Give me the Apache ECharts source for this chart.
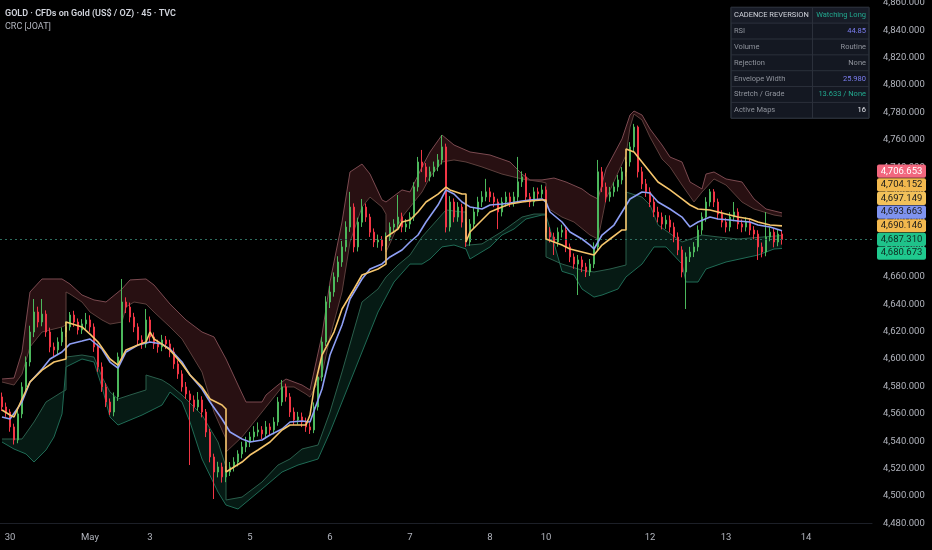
<!DOCTYPE html>
<html>
<head>
<meta charset="utf-8">
<script src="https://cdn.jsdelivr.net/npm/echarts@6/dist/echarts.min.js"></script>
<style>
html,body{margin:0;padding:0;background:#000;}
#chart{width:932px;height:550px;}
</style>
</head>
<body>
<div id="chart"></div>
<script>
// ---------- DATA ----------
const tickIndex  = [2, 22, 37, 62, 82, 102, 122, 136, 162, 181, 201];
const tickLabels = ['30', 'May', '3', '5', '6', '7', '8', '10', '12', '13', '14'];
const slotCount = 218;
const categories = Array.from({length: slotCount}, (_, i) => 'b' + i);

const opens = [
4572.3,4565.0,4561.3,4550.4,4540.9,4559.9,4579.6,4597.8,4619.7,4634.3,
4627.0,4632.8,4619.7,4608.8,4606.6,4612.4,4619.7,4623.4,4632.1,4627.0,
4621.2,4625.6,4628.5,4623.4,4608.8,4594.2,4579.6,4568.6,4561.3,4572.3,
4601.5,4641.6,4637.9,4630.6,4623.4,4613.9,4611.0,4628.5,4616.1,4611.0,
4608.8,4613.9,4611.0,4605.1,4596.4,4589.1,4579.6,4574.5,4570.1,4565.0,
4570.1,4561.3,4546.7,4528.5,4517.5,4521.2,4513.9,4517.5,4521.2,4524.8,
4530.7,4535.8,4539.4,4543.1,4546.7,4548.2,4545.3,4550.4,4548.2,4554.0,
4568.6,4579.6,4572.3,4561.3,4555.5,4557.7,4554.0,4550.4,4548.2,4565.0,
4586.9,4612.4,4641.6,4648.9,4659.9,4670.8,4681.8,4696.3,4710.9,4681.8,
4699.9,4710.9,4703.6,4692.6,4685.4,4686.9,4682.5,4689.0,4696.3,4698.5,
4703.6,4696.3,4698.5,4703.6,4725.6,4743.8,4740.2,4732.9,4736.6,4740.2,
4745.3,4754.8,4696.3,4714.6,4703.6,4710.9,4699.9,4685.4,4698.5,4707.3,
4714.6,4718.3,4722.0,4718.3,4714.6,4707.3,4714.6,4718.3,4714.6,4718.3,
4729.3,4732.9,4718.3,4714.6,4722.0,4720.5,4723.4,4692.6,4689.0,4685.4,
4692.6,4694.1,4681.8,4674.5,4669.3,4672.3,4667.2,4663.5,4669.3,4681.8,
4736.6,4725.6,4718.3,4722.0,4725.6,4730.7,4736.6,4743.8,4754.8,4769.3,
4736.6,4727.8,4722.0,4714.6,4707.3,4703.6,4698.5,4701.4,4696.3,4689.0,
4679.6,4663.5,4674.5,4678.1,4681.8,4694.1,4703.6,4714.6,4722.0,4714.6,
4705.8,4699.9,4696.3,4703.6,4707.3,4698.5,4696.3,4699.9,4694.1,4691.2,
4681.8,4678.1,4689.0,4692.6,4685.4,4691.2
];
const closes = [
4565.0,4561.3,4550.4,4540.9,4559.9,4579.6,4597.8,4619.7,4634.3,4627.0,
4632.8,4619.7,4608.8,4606.6,4612.4,4619.7,4623.4,4632.1,4627.0,4621.2,
4625.6,4628.5,4623.4,4608.8,4594.2,4579.6,4568.6,4561.3,4572.3,4601.5,
4641.6,4637.9,4630.6,4623.4,4613.9,4611.0,4628.5,4616.1,4611.0,4608.8,
4613.9,4611.0,4605.1,4596.4,4589.1,4579.6,4574.5,4570.1,4565.0,4570.1,
4561.3,4546.7,4528.5,4517.5,4521.2,4513.9,4517.5,4521.2,4524.8,4530.7,
4535.8,4539.4,4543.1,4546.7,4548.2,4545.3,4550.4,4548.2,4554.0,4568.6,
4579.6,4572.3,4561.3,4555.5,4557.7,4554.0,4550.4,4548.2,4565.0,4586.9,
4612.4,4641.6,4648.9,4659.9,4670.8,4681.8,4696.3,4710.9,4681.8,4699.9,
4710.9,4703.6,4692.6,4685.4,4686.9,4682.5,4689.0,4696.3,4698.5,4703.6,
4696.3,4698.5,4703.6,4725.6,4743.8,4740.2,4732.9,4736.6,4740.2,4745.3,
4754.8,4696.3,4714.6,4703.6,4710.9,4699.9,4685.4,4698.5,4707.3,4714.6,
4718.3,4722.0,4718.3,4714.6,4707.3,4714.6,4718.3,4714.6,4718.3,4729.3,
4732.9,4718.3,4714.6,4722.0,4720.5,4723.4,4692.6,4689.0,4685.4,4692.6,
4694.1,4681.8,4674.5,4669.3,4672.3,4667.2,4663.5,4669.3,4681.8,4736.6,
4725.6,4718.3,4722.0,4725.6,4730.7,4736.6,4743.8,4754.8,4769.3,4736.6,
4727.8,4722.0,4714.6,4707.3,4703.6,4698.5,4701.4,4696.3,4689.0,4679.6,
4663.5,4674.5,4678.1,4681.8,4694.1,4703.6,4714.6,4722.0,4714.6,4705.8,
4699.9,4696.3,4703.6,4707.3,4698.5,4696.3,4699.9,4694.1,4691.2,4681.8,
4678.1,4689.0,4692.6,4685.4,4691.2,4687.31
];
const lows = [
4562.0,4557.8,4546.9,4537.6,4538.5,4556.8,4576.4,4594.6,4616.0,4623.1,
4623.9,4616.2,4604.9,4602.1,4603.3,4609.6,4616.1,4620.8,4623.5,4617.9,
4618.3,4621.7,4619.8,4605.2,4590.6,4576.0,4564.9,4559.1,4558.2,4569.4,
4598.7,4633.5,4626.8,4619.6,4610.2,4607.4,4608.2,4612.5,4607.3,4604.6,
4605.7,4607.2,4601.3,4592.8,4585.5,4576.2,4570.8,4522.6,4561.5,4562.3,
4557.4,4543.0,4524.6,4497.8,4513.6,4509.8,4510.1,4514.6,4517.9,4521.6,
4527.5,4532.0,4535.7,4539.6,4543.5,4541.6,4542.2,4544.6,4545.0,4551.3,
4565.8,4568.9,4557.7,4551.9,4552.2,4550.3,4546.8,4545.3,4545.9,4562.4,
4583.8,4609.5,4637.2,4645.5,4656.1,4667.3,4678.4,4692.8,4677.9,4678.5,
4696.4,4700.1,4689.1,4681.7,4681.2,4679.0,4679.8,4686.1,4692.4,4695.2,
4692.5,4692.7,4695.0,4700.8,4722.3,4736.4,4729.1,4729.7,4733.0,4737.1,
4742.0,4692.4,4693.1,4699.8,4700.2,4696.0,4681.8,4682.6,4695.4,4704.2,
4711.0,4715.1,4714.6,4710.8,4694.8,4704.1,4711.3,4711.0,4711.2,4715.0,
4725.6,4714.5,4710.9,4711.5,4716.8,4717.3,4688.9,4685.1,4675.9,4682.0,
4688.7,4678.0,4670.7,4665.8,4646.7,4663.4,4659.8,4660.6,4666.4,4678.9,
4721.8,4714.4,4714.9,4718.5,4722.3,4727.5,4733.2,4740.5,4751.6,4732.5,
4724.0,4718.3,4710.9,4703.6,4699.7,4694.6,4695.0,4692.5,4685.2,4675.8,
4659.6,4636.5,4670.8,4674.4,4678.6,4690.7,4700.2,4711.3,4710.9,4702.0,
4696.1,4692.4,4693.2,4700.5,4694.8,4692.5,4693.1,4690.4,4687.4,4672.3,
4674.2,4675.0,4685.9,4681.5,4682.3,4683.5
];
const highs = [
4575.5,4568.2,4563.4,4552.8,4563.1,4583.0,4601.9,4624.3,4643.8,4638.2,
4643.8,4635.5,4622.9,4612.0,4615.8,4623.0,4627.4,4634.3,4635.2,4629.6,
4629.1,4633.6,4631.9,4626.0,4611.3,4597.5,4582.4,4571.2,4575.6,4604.7,
4658.4,4645.0,4641.2,4633.7,4626.1,4617.3,4636.5,4631.0,4619.4,4614.1,
4617.6,4616.8,4614.0,4608.3,4599.0,4591.8,4583.2,4577.0,4573.4,4575.9,
4572.8,4563.5,4549.1,4530.9,4525.0,4524.3,4521.9,4524.8,4528.3,4533.4,
4539.6,4543.2,4546.8,4551.0,4553.7,4551.0,4554.8,4553.1,4557.5,4572.2,
4584.7,4582.0,4575.1,4564.6,4561.4,4560.9,4557.2,4553.6,4568.3,4590.5,
4616.1,4645.8,4653.4,4663.2,4675.0,4686.2,4700.5,4722.0,4713.6,4703.2,
4716.8,4713.5,4706.0,4695.3,4690.8,4689.7,4692.4,4699.7,4702.0,4719.7,
4706.8,4702.2,4707.1,4729.0,4747.5,4752.6,4743.0,4740.4,4744.1,4749.6,
4763.5,4757.2,4718.9,4717.2,4714.5,4713.3,4702.5,4702.1,4711.0,4718.4,
4722.5,4731.5,4725.2,4721.4,4717.0,4718.0,4722.1,4721.5,4722.0,4747.5,
4737.0,4735.6,4721.2,4725.4,4725.1,4727.2,4726.0,4696.3,4692.2,4696.0,
4698.0,4696.5,4684.3,4677.1,4675.9,4675.0,4670.2,4673.0,4685.1,4745.3,
4740.1,4728.8,4725.6,4729.0,4734.4,4740.1,4747.4,4758.3,4771.6,4770.4,
4740.2,4731.4,4725.3,4717.8,4711.1,4706.9,4705.0,4704.8,4699.6,4692.4,
4682.3,4677.8,4681.9,4685.3,4697.5,4707.0,4718.1,4724.1,4724.0,4717.1,
4708.6,4703.0,4707.1,4714.6,4710.0,4701.8,4703.4,4702.6,4697.0,4694.0,
4685.0,4707.3,4696.2,4695.3,4694.8,4693.9
];

// indicator lines: [bar index, price]
const blueLine = [[0,4557.6],[2,4556.2],[5,4568.6],[7,4583.2],[10,4592.7],[12,4600.0],[15,4605.1],[17,4611.0],[20,4613.1],[22,4614.6],[25,4607.3],[27,4597.8],[29,4593.4],[31,4605.1],[34,4610.2],[37,4612.4],[40,4610.9],[42,4607.3],[45,4597.8],[47,4588.3],[50,4578.1],[52,4568.6],[55,4556.2],[57,4546.7],[60,4541.6],[62,4539.4],[65,4540.9],[67,4544.5],[70,4548.9],[72,4554.0],[75,4554.7],[77,4554.0],[80,4578.1],[82,4602.9],[85,4624.8],[87,4643.8],[90,4658.4],[92,4665.7],[95,4669.4],[97,4674.5],[100,4679.6],[102,4685.4],[104,4690.5],[106,4700.0],[109,4712.4],[111,4723.4],[113,4720.4],[115,4714.6],[117,4711.0],[120,4709.5],[122,4712.4],[125,4713.1],[127,4713.9],[130,4715.3],[132,4716.1],[135,4716.8],[136,4714.6],[137,4707.3],[140,4700.0],[142,4692.7],[145,4687.6],[147,4683.2],[148,4680.3],[150,4690.5],[153,4697.8],[155,4707.3],[157,4716.8],[160,4721.9],[162,4721.2],[164,4714.6],[167,4709.5],[170,4703.6],[172,4696.4],[174,4700.0],[177,4703.6],[179,4702.2],[182,4701.5],[184,4700.7],[187,4700.0],[189,4697.8],[192,4696.4],[195,4693.663]];
const yellowLine = [[0,4562.8],[2,4559.1],[3,4557.7],[5,4570.8],[7,4583.2],[10,4591.9],[13,4597.8],[16,4600.0],[16,4627.0],[20,4623.4],[22,4618.2],[24,4612.4],[27,4600.0],[29,4595.6],[31,4606.6],[34,4610.2],[36,4612.4],[37,4619.7],[38,4614.6],[40,4610.9],[42,4606.6],[45,4596.3],[47,4588.3],[50,4579.6],[52,4570.8],[55,4566.4],[56,4563.5],[56,4517.5],[60,4524.8],[62,4529.9],[64,4533.6],[67,4539.4],[70,4548.2],[72,4551.8],[76,4551.8],[77,4559.1],[78,4578.1],[80,4602.9],[83,4619.7],[85,4636.5],[88,4651.1],[90,4661.3],[94,4665.7],[96,4669.3],[96,4689.0],[99,4694.9],[100,4700.0],[102,4701.5],[104,4707.3],[106,4714.6],[109,4720.4],[111,4725.5],[112,4723.4],[115,4720.4],[116,4720.4],[116,4685.4],[117,4692.7],[120,4701.5],[122,4707.3],[125,4711.0],[127,4713.1],[130,4714.6],[132,4715.3],[135,4716.1],[136,4716.1],[136,4687.6],[140,4683.2],[142,4680.3],[145,4678.1],[148,4675.9],[150,4683.2],[152,4687.6],[155,4694.2],[156,4694.2],[156,4753.3],[158,4751.1],[160,4743.8],[162,4736.5],[164,4729.2],[167,4723.4],[170,4716.8],[172,4712.4],[174,4709.5],[177,4708.8],[179,4707.3],[182,4705.1],[184,4703.6],[187,4702.2],[189,4700.0],[192,4697.8],[195,4697.149]];
const upperOuter = [[0,4585.4],[3,4586.1],[5,4605.1],[7,4648.9],[10,4658.4],[15,4658.4],[17,4654.7],[20,4646.7],[23,4643.1],[26,4641.6],[30,4651.1],[32,4657.7],[36,4658.4],[38,4654.0],[42,4640.1],[46,4628.5],[50,4619.7],[53,4616.1],[56,4600.0],[59,4581.0],[61,4568.6],[65,4568.6],[66,4573.7],[69,4581.0],[71,4585.4],[75,4581.0],[77,4577.4],[80,4617.5],[82,4656.2],[85,4700.0],[87,4736.5],[90,4742.3],[92,4735.0],[95,4716.1],[96,4714.6],[100,4723.4],[102,4721.9],[105,4740.1],[107,4751.1],[110,4763.5],[113,4756.2],[117,4751.1],[122,4748.9],[127,4743.8],[130,4735.0],[132,4730.7],[135,4730.7],[138,4732.1],[141,4729.2],[145,4724.1],[147,4719.7],[149,4716.8],[151,4738.7],[155,4760.6],[157,4778.1],[158,4781.0],[160,4778.1],[162,4767.9],[165,4756.2],[167,4747.4],[170,4743.8],[172,4729.2],[175,4724.1],[176,4735.0],[178,4736.5],[181,4731.4],[185,4729.2],[188,4716.8],[191,4709.5],[195,4706.653]];
const upperInner = [[0,4583.2],[3,4581.0],[5,4589.0],[7,4608.8],[10,4619.7],[15,4623.4],[16,4624.8],[16,4648.9],[17,4647.4],[20,4641.6],[22,4634.3],[25,4628.5],[27,4625.5],[30,4627.0],[31,4638.0],[33,4641.6],[36,4640.1],[38,4634.3],[42,4623.4],[45,4614.6],[50,4590.5],[53,4561.3],[56,4541.6],[56,4532.1],[60,4543.1],[63,4554.0],[67,4568.6],[70,4579.6],[73,4579.6],[76,4574.4],[77,4572.2],[80,4589.0],[82,4616.1],[85,4648.9],[87,4685.4],[90,4710.9],[92,4718.2],[95,4710.9],[96,4705.8],[96,4678.1],[100,4703.6],[102,4710.9],[105,4721.9],[107,4732.9],[110,4743.8],[113,4745.3],[116,4743.8],[120,4740.2],[125,4735.0],[130,4731.4],[135,4729.2],[136,4728.5],[136,4710.9],[140,4703.6],[143,4700.0],[147,4690.5],[149,4687.6],[151,4716.8],[156,4748.9],[157,4769.3],[158,4778.8],[160,4774.5],[162,4762.0],[165,4746.0],[167,4740.2],[170,4727.0],[173,4714.6],[175,4721.9],[178,4731.4],[181,4727.0],[185,4714.6],[188,4709.5],[193,4705.1],[195,4704.152]];
const lowerOuter = [[0,4539.4],[3,4534.3],[6,4530.7],[8,4524.8],[11,4533.6],[13,4543.1],[15,4559.9],[16,4594.2],[20,4600.0],[23,4597.8],[25,4579.6],[27,4557.6],[29,4551.8],[35,4559.1],[40,4566.4],[42,4575.9],[45,4568.6],[47,4554.0],[50,4527.0],[54,4502.9],[56,4493.4],[59,4490.5],[62,4497.8],[65,4505.1],[70,4517.5],[74,4522.6],[79,4527.0],[82,4546.7],[85,4568.6],[90,4605.1],[94,4634.3],[98,4656.2],[102,4669.3],[105,4669.3],[107,4673.0],[110,4681.8],[113,4683.2],[116,4680.3],[117,4673.0],[122,4681.8],[125,4690.5],[128,4694.9],[131,4702.2],[135,4705.1],[136,4705.1],[140,4664.0],[143,4661.3],[145,4651.1],[148,4645.2],[150,4646.7],[154,4651.1],[156,4659.9],[160,4669.3],[163,4681.8],[166,4681.8],[170,4669.3],[171,4656.2],[174,4656.2],[176,4665.7],[181,4670.8],[189,4675.9],[193,4680.3],[195,4680.673]];
const lowerInner = [[0,4541.6],[5,4541.6],[8,4554.0],[11,4568.6],[15,4575.9],[16,4577.4],[16,4601.4],[20,4602.9],[23,4601.4],[25,4586.9],[27,4575.9],[29,4570.8],[32,4573.7],[36,4577.4],[36,4588.3],[40,4584.7],[42,4581.0],[45,4573.7],[50,4559.1],[54,4539.4],[56,4521.2],[56,4497.1],[60,4499.2],[65,4510.2],[69,4522.6],[72,4527.0],[75,4534.3],[79,4537.2],[82,4561.3],[85,4590.5],[90,4641.6],[94,4651.1],[96,4659.9],[99,4668.6],[102,4675.9],[105,4689.1],[109,4702.2],[111,4708.8],[115,4707.3],[116,4707.3],[116,4683.0],[120,4684.0],[125,4693.0],[130,4703.6],[133,4705.8],[136,4705.8],[136,4674.5],[140,4669.3],[145,4664.9],[148,4663.5],[152,4665.7],[156,4668.6],[156,4721.9],[160,4718.2],[162,4712.4],[164,4697.8],[170,4685.4],[175,4690.5],[179,4689.1],[184,4687.6],[195,4690.146]];

const badgeValues = [4706.653, 4704.152, 4697.149, 4693.663, 4690.146, 4687.310, 4680.673];
const badgeFills  = ['#f2677e', '#f2b84e', '#f2c15a', '#7f93ef', '#f2b84e', '#1fc28a', '#1fc98e'];
const badgeInk    = ['#ffffff', '#1a1a1a', '#1a1a1a', '#1a1a1a', '#1a1a1a', '#0d2a20', '#0d2a20'];

const tableLabels = ['CADENCE REVERSION', 'RSI', 'Volume', 'Rejection', 'Envelope Width', 'Stretch / Grade', 'Active Maps'];
const tableValues = ['Watching Long', '44.85', 'Routine', 'None', '25.980', '13.633 / None', '16'];
const tableValueColors = ['#22a98f', '#7c7ef2', '#8f939c', '#8f939c', '#7c7ef2', '#22a98f', '#e6e8ee'];

// ---------- CHART ----------
const FONT = 'Roboto, "Noto Sans", sans-serif';
const chart = echarts.init(document.getElementById('chart'), null, {renderer: 'canvas'});
const candleData = opens.map((o, i) => [o, closes[i], lows[i], highs[i]]);
const labelMap = {};
tickIndex.forEach((ix, k) => { labelMap[ix] = tickLabels[k]; });

function bandFill(outer, inner, color) {
  return {
    type: 'custom', silent: true, z: 1,
    data: [[outer[0][0], outer[0][1]]],
    renderItem: function (params, api) {
      const pts = outer.map(p => api.coord(p)).concat(inner.slice().reverse().map(p => api.coord(p)));
      return {type: 'polygon', shape: {points: pts}, style: {fill: color}};
    }
  };
}
function thinLine(data, color, width, z) {
  return {type: 'line', data: data, symbol: 'none', silent: true, z: z,
          lineStyle: {color: color, width: width}};
}

chart.setOption({
  animation: false,
  backgroundColor: '#000000',
  grid: {left: 0, right: 60, top: -24.6, bottom: 26.6, containLabel: false, outerBoundsMode: 'none'},
  xAxis: {
    type: 'category', data: categories, boundaryGap: true,
    axisLine: {show: true, lineStyle: {color: '#1c1f27'}},
    axisTick: {show: false},
    splitLine: {show: false},
    axisLabel: {interval: 0, color: '#b2b5be', fontSize: 9.5, fontFamily: FONT, margin: 9,
                formatter: (v, i) => labelMap[i] || ''}
  },
  yAxis: {
    type: 'value', position: 'right', min: 4480, max: 4880, interval: 20,
    axisLine: {show: false}, axisTick: {show: false}, splitLine: {show: false},
    axisLabel: {color: '#b2b5be', fontSize: 9.5, fontFamily: FONT, margin: 11, showMinLabel: true,
                formatter: v => v.toLocaleString('en-US', {minimumFractionDigits: 3, maximumFractionDigits: 3})}
  },
  series: [
    bandFill(upperOuter, upperInner, 'rgba(125,50,56,0.32)'),
    bandFill(lowerOuter, lowerInner, 'rgba(28,118,90,0.22)'),
    thinLine(upperOuter, '#7b4a50', 1, 2),
    thinLine(upperInner, '#5c3f3c', 1, 2),
    thinLine(lowerOuter, '#1f6b55', 1, 2),
    thinLine(lowerInner, '#2a5e4b', 1, 2),
    {
      type: 'candlestick', data: candleData, z: 3, barWidth: '55%',
      itemStyle: {color: '#4cb85c', color0: '#f23645', borderColor: '#4cb85c', borderColor0: '#f23645', borderWidth: 1},
      markLine: {
        symbol: 'none', silent: true, label: {show: false},
        lineStyle: {color: '#2f6e60', type: [2, 3], width: 1},
        data: [{yAxis: closes[closes.length - 1]}]
      }
    },
    thinLine(blueLine, '#8e9ff5', 1.6, 4),
    thinLine(yellowLine, '#f5c56c', 1.6, 5)
  ]
});

// ---------- overlays: title, price badges, table ----------
const g = [];
g.push({type: 'text', x: 5, y: 14, z: 50, style: {text: 'GOLD · CFDs on Gold (US$ / OZ) · 45 · TVC', fill: '#d1d4dc', font: '600 9px ' + FONT, align: 'left', verticalAlign: 'middle'}});
g.push({type: 'text', x: 5, y: 27, z: 50, style: {text: 'CRC [JOAT]', fill: '#b2b5be', font: '9px ' + FONT, align: 'left', verticalAlign: 'middle'}});

const yClose = chart.convertToPixel({yAxisIndex: 0}, closes[closes.length - 1]);
const closeSlot = 5;
badgeValues.forEach((v, i) => {
  const cy = yClose + (i - closeSlot) * 13.65;
  g.push({type: 'rect', z: 60, shape: {x: 877, y: cy - 6.6, width: 49, height: 13.2, r: 2}, style: {fill: badgeFills[i]}});
  g.push({type: 'text', z: 61, x: 901.5, y: cy, style: {text: v.toLocaleString('en-US', {minimumFractionDigits: 3}), fill: badgeInk[i], font: '9.5px ' + FONT, align: 'center', verticalAlign: 'middle'}});
});

const tX = 731, tY = 7.3, tW = 138, rowH = 15.85, split = 812.5;
g.push({type: 'rect', z: 70, shape: {x: tX, y: tY, width: tW, height: rowH * tableLabels.length}, style: {fill: '#141822', stroke: '#2b303b', lineWidth: 1}});
g.push({type: 'rect', z: 70, shape: {x: tX, y: tY, width: tW, height: rowH}, style: {fill: '#181c27'}});
for (let r = 1; r < tableLabels.length; r++) {
  g.push({type: 'line', z: 71, shape: {x1: tX, y1: tY + r * rowH, x2: tX + tW, y2: tY + r * rowH}, style: {stroke: '#2b303b', lineWidth: 1}});
}
g.push({type: 'line', z: 71, shape: {x1: split, y1: tY, x2: split, y2: tY + rowH * tableLabels.length}, style: {stroke: '#2b303b', lineWidth: 1}});
g.push({type: 'rect', z: 72, shape: {x: tX, y: tY, width: tW, height: rowH * tableLabels.length}, style: {fill: 'none', stroke: '#2b303b', lineWidth: 1}});
tableLabels.forEach((lab, r) => {
  const cy = tY + r * rowH + rowH / 2;
  g.push({type: 'text', z: 73, x: tX + 3, y: cy, style: {text: lab, fill: r === 0 ? '#d1d4dc' : '#8f939c', font: '7.5px ' + FONT, align: 'left', verticalAlign: 'middle'}});
  g.push({type: 'text', z: 73, x: tX + tW - 3, y: cy, style: {text: tableValues[r], fill: tableValueColors[r], font: '7.5px ' + FONT, align: 'right', verticalAlign: 'middle'}});
});

chart.setOption({graphic: g});
</script>
</body>
</html>
